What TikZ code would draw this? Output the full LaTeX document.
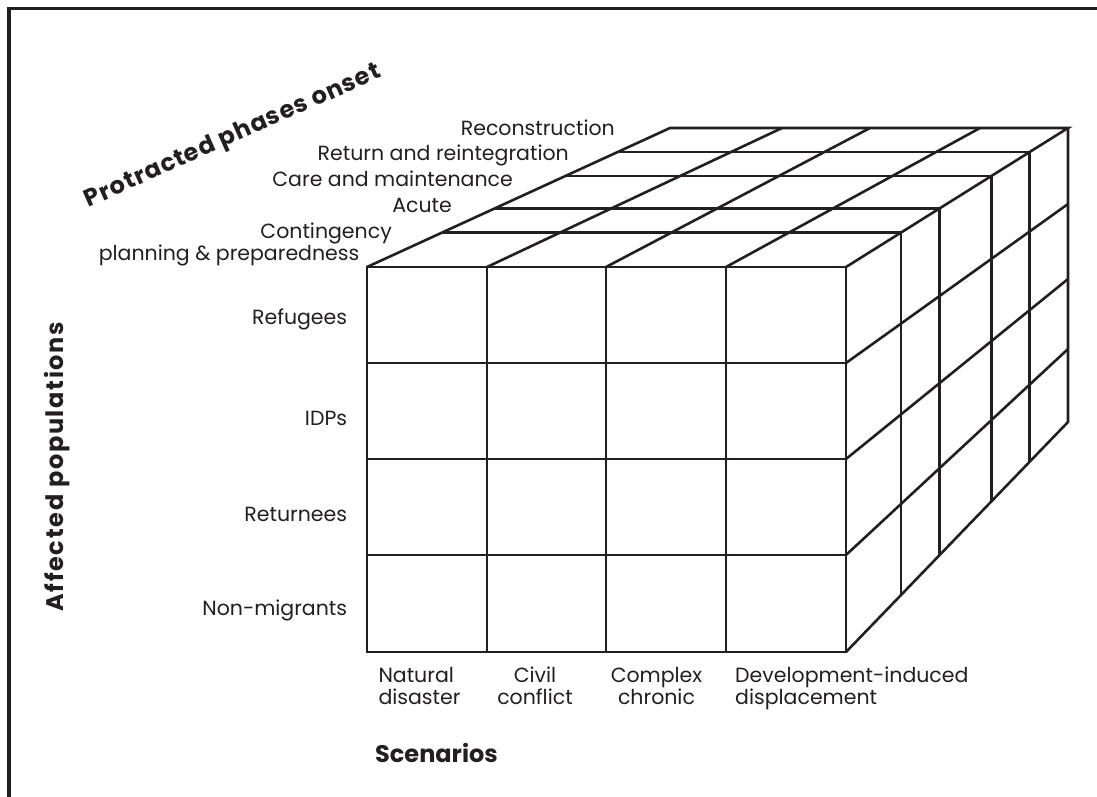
\documentclass[tikz,border=0pt]{standalone}
\usepackage{fontspec}
\setmainfont{Poppins}
\definecolor{ink}{HTML}{231F20}
\tikzset{
  cubeline/.style={draw=ink, line width=2.6pt, line join=miter},
  frameline/.style={draw=ink, line width=3.6pt},
  lbl/.style={inner sep=0pt, text=ink, font=\fontsize{20.5}{22}\selectfont},
  ttl/.style={inner sep=0pt, text=ink, font=\fontsize{24}{26}\selectfont\bfseries},
}
\begin{document}
\begin{tikzpicture}[x=1pt,y=-1pt]
\useasboundingbox (0,0) rectangle (1097,796);
\fill[white] (0,0) rectangle (1097,796);
% frame (top and left edges)
\coordinate (fb) at (8.8,800);
\coordinate (fc) at (8.8,8.5);
\coordinate (fr) at (1100,8.5);
\draw[frameline] (fb) -- (fc) -- (fr);

% ---- front face
\coordinate (A) at (367,267);
\coordinate (B) at (846,267);
\coordinate (C) at (846,652);
\coordinate (D) at (367,652);
\draw[cubeline] (A) -- (B) -- (C) -- (D) -- cycle;
\foreach \x in {487,606,726} \draw[cubeline] (\x,267) -- (\x,652);
\foreach \y in {363,459,555} \draw[cubeline] (367,\y) -- (846,\y);

% ---- top face
\coordinate (TL) at (670,128);
\coordinate (TR) at (1068,128);
\draw[cubeline] (A) -- (TL) -- (TR) -- (B);
\draw[cubeline] (442.2,232.5) -- (901.1,232.5);
\draw[cubeline] (494.5,208.5) -- (939.4,208.5);
\draw[cubeline] (565.4,176) -- (991.3,176);
\draw[cubeline] (617.7,152) -- (1029.7,152);
\draw[cubeline] (487,267) -- (782,128);
\draw[cubeline] (606,267) -- (870,128);
\draw[cubeline] (726,267) -- (980,128);

% ---- right face
\coordinate (BR) at (1068,422);
\draw[cubeline] (TR) -- (BR) -- (C);
\draw[cubeline] (901.1,232.5) -- (901.1,594.9);
\draw[cubeline] (939.4,208.5) -- (939.4,555.2);
\draw[cubeline] (991.3,176) -- (991.3,501.5);
\draw[cubeline] (1029.7,152) -- (1029.7,461.7);
\draw[cubeline] (846,363) -- (1068,204);
\draw[cubeline] (846,459) -- (1068,279);
\draw[cubeline] (846,555) -- (1068,349);

% ---- phase labels
\node[lbl, anchor=base east] (p5) at (615,135) {Reconstruction};
\node[lbl, anchor=base east] (p4) at (569,160) {Return and reintegration};
\node[lbl, anchor=base east] (p3) at (513,186) {Care and maintenance};
\node[lbl, anchor=base east] (p2) at (452,212) {Acute};
\node[lbl, anchor=base east] (p1a) at (392,238) {Contingency};
\node[lbl, anchor=base east] (p1b) at (359.5,260) {planning \& preparedness};
\node[ttl, rotate=24] (ptitle) at (233,137) {\addfontfeature{LetterSpace=4}Protracted phases onset};

% ---- population labels
\node[lbl, anchor=base east] (r1) at (347.3,324.3) {Refugees};
\node[lbl, anchor=base east] (r2) at (347.3,425) {IDPs};
\node[lbl, anchor=base east] (r3) at (347.3,521.7) {Returnees};
\node[lbl, anchor=base east] (r4) at (347.3,615) {Non-migrants};
\node[ttl, rotate=90, anchor=base] (ytitle) at (63.3,466.7) {\addfontfeature{LetterSpace=7}Affected populations};

% ---- scenario labels
\node[lbl, anchor=base west] (s1a) at (378.3,682.5) {Natural};
\node[lbl, anchor=base west] (s1b) at (378.3,704.5) {disaster};
\node[lbl, anchor=base] (s2a) at (535,682.5) {Civil};
\node[lbl, anchor=base] (s2b) at (535,704.5) {conflict};
\node[lbl, anchor=base] (s3a) at (656.5,682.5) {Complex};
\node[lbl, anchor=base] (s3b) at (656.5,704.5) {chronic};
\node[lbl, anchor=base west] (s4a) at (735,682.5) {Development-induced};
\node[lbl, anchor=base west] (s4b) at (735,704.5) {displacement};
\node[ttl, anchor=base west] (xtitle) at (375,762) {Scenarios};
\end{tikzpicture}
\end{document}
